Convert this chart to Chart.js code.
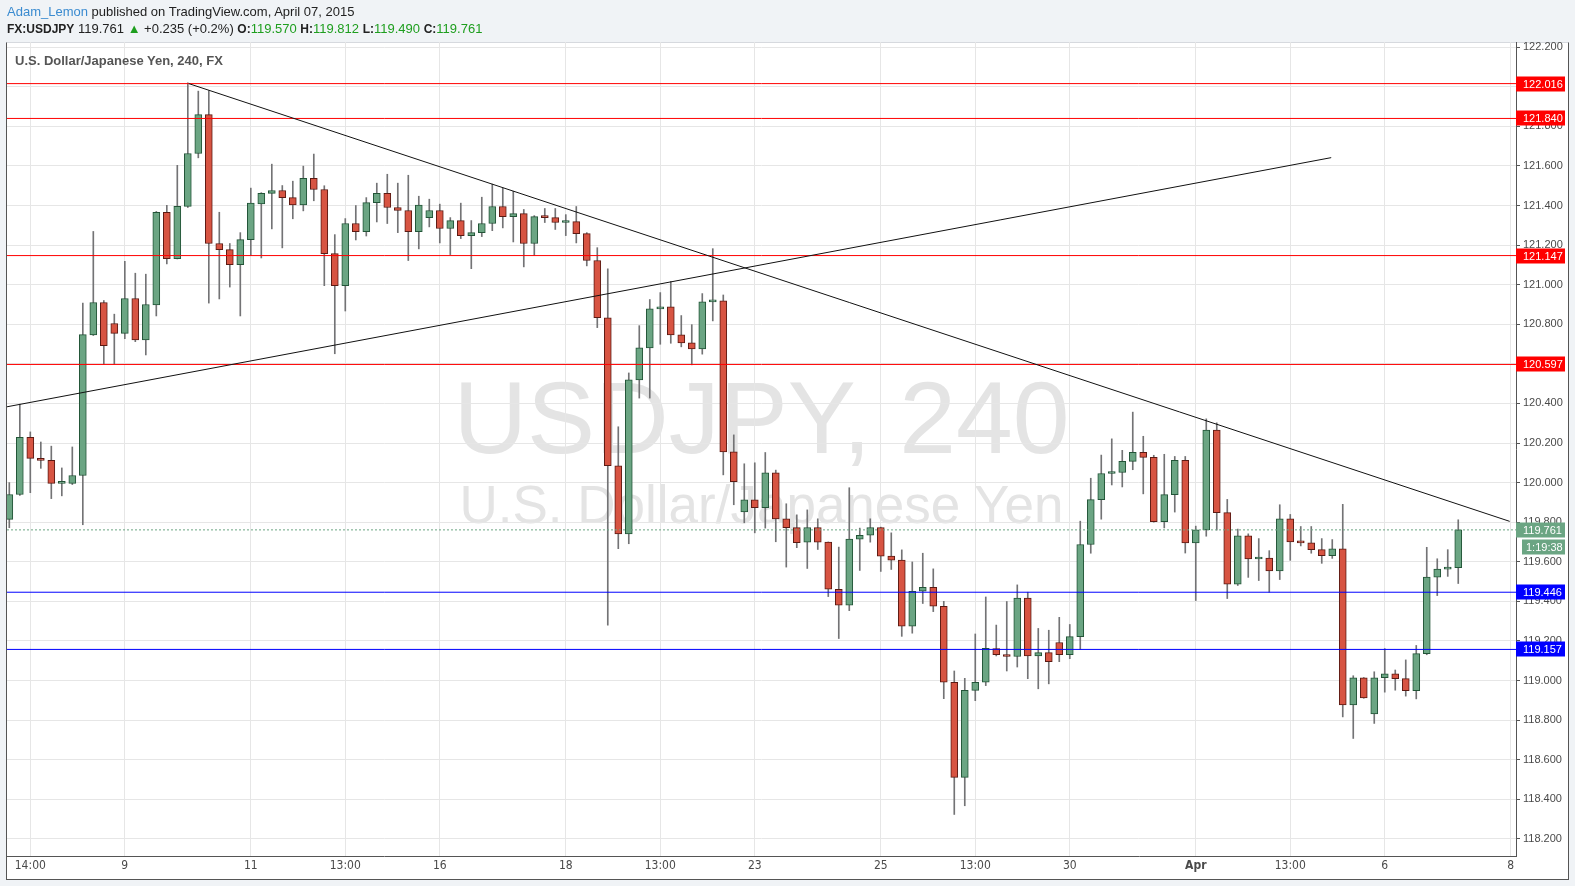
<!DOCTYPE html>
<html><head><meta charset="utf-8">
<script src="https://cdn.jsdelivr.net/npm/chart.js@4.4.0/dist/chart.umd.min.js"></script>
<style>
html,body{margin:0;padding:0;background:#f0f3f6;width:1575px;height:886px;overflow:hidden;font-family:"Liberation Sans",Arial,sans-serif;}
#panel{position:absolute;left:6px;top:42px;width:1561px;height:836px;background:#fff;border:1px solid #555;border-top-color:#d6d9de;z-index:1;}
.wm{position:absolute;left:7px;width:1509px;text-align:center;color:#e4e4e4;white-space:nowrap;line-height:1;z-index:2;}
#wm1{top:367px;font-size:102px;}
#wm2{top:478px;font-size:53px;}
#c{position:absolute;left:0;top:0;z-index:3;}
.hdr{position:absolute;left:7px;font-size:13px;line-height:13px;white-space:nowrap;color:#222;z-index:4;}
.hdr b{font-size:12px;}
.g{color:#1e9e1e;}
#title{position:absolute;left:15px;top:54px;font-size:13px;line-height:13px;font-weight:bold;color:#555;z-index:4;white-space:nowrap;}
</style></head>
<body>
<div id="panel"></div>
<div class="wm" id="wm1">USDJPY, 240</div>
<div class="wm" id="wm2">U.S. Dollar/Japanese Yen</div>
<canvas id="c" width="1575" height="886"></canvas>
<div class="hdr" style="top:5px"><span style="color:#3a8bd0">Adam_Lemon</span> published on TradingView.com, April 07, 2015</div>
<div class="hdr" style="top:22px"><b>FX:USDJPY</b> 119.761 <span class="g">&#9650;</span> +0.235 (+0.2%) <b>O:</b><span class="g">119.570</span> <b>H:</b><span class="g">119.812</span> <b>L:</b><span class="g">119.490</span> <b>C:</b><span class="g">119.761</span></div>
<div id="title">U.S. Dollar/Japanese Yen, 240, FX</div>
<script>
// ---- data (4H candles, USD/JPY) ----
const openP = [119.814,119.940,120.229,120.122,120.112,119.996,119.996,120.036,120.746,120.910,
120.804,120.754,120.930,120.721,120.898,121.365,121.132,121.396,121.663,121.859,
121.208,121.177,121.101,121.228,121.408,121.461,121.476,121.440,121.403,121.537,
121.481,121.157,120.995,121.309,121.268,121.415,121.461,121.390,121.375,121.268,
121.339,121.375,121.284,121.324,121.248,121.263,121.309,121.395,121.344,121.359,
121.208,121.344,121.339,121.314,121.319,121.258,121.122,120.832,120.085,119.741,
120.519,120.681,120.878,120.888,120.746,120.706,120.676,120.913,120.918,120.155,
119.852,119.913,119.873,120.049,119.817,119.772,119.699,119.773,119.699,119.461,
119.380,119.714,119.734,119.773,119.628,119.608,119.274,119.451,119.471,119.375,
118.991,118.510,118.950,118.991,119.161,119.131,119.121,119.416,119.124,119.141,
119.192,119.131,119.222,119.687,119.914,120.046,120.051,120.107,120.153,120.127,
119.802,119.939,120.112,119.695,119.761,120.265,119.848,119.487,119.731,119.614,
119.619,119.553,119.817,119.700,119.695,119.661,119.631,119.665,118.877,119.014,
118.831,119.014,119.034,119.009,118.948,119.136,119.522,119.563,119.570];
const highP = [120.000,120.396,120.256,120.205,120.184,120.074,120.180,120.907,121.269,120.920,
120.851,121.118,121.058,121.053,121.370,121.401,121.603,122.020,121.978,121.980,
121.366,121.208,121.263,121.488,121.465,121.609,121.501,121.523,121.599,121.660,
121.500,121.253,121.334,121.400,121.440,121.513,121.558,121.513,121.553,121.447,
121.432,121.407,121.339,121.412,121.324,121.442,121.508,121.488,121.472,121.380,
121.349,121.385,121.385,121.354,121.395,121.263,121.187,121.080,120.282,120.554,
120.793,120.925,120.960,121.016,120.844,120.798,120.955,121.182,120.948,120.241,
120.095,120.100,120.152,120.063,119.893,119.837,119.862,119.817,119.700,119.674,
119.974,119.770,119.817,119.775,119.746,119.660,119.599,119.643,119.564,119.400,
119.048,119.011,119.235,119.422,119.280,119.399,119.483,119.446,119.263,119.254,
119.319,119.283,119.805,120.022,120.139,120.221,120.163,120.356,120.234,120.138,
120.143,120.132,120.132,119.780,120.322,120.302,119.915,119.765,119.741,119.717,
119.656,119.888,119.839,119.778,119.778,119.717,119.712,119.890,119.024,119.015,
119.044,119.161,119.053,119.104,119.177,119.673,119.615,119.661,119.812];
const lowP = [119.772,119.935,119.949,120.072,119.919,119.933,119.990,119.787,120.743,120.598,
120.598,120.727,120.712,120.645,120.842,121.105,121.130,121.390,121.641,120.907,
120.928,120.988,120.842,121.147,121.135,121.282,121.186,121.333,121.373,121.424,
120.995,120.651,120.867,121.226,121.246,121.317,121.309,121.263,121.122,121.181,
121.292,121.211,121.152,121.233,121.081,121.243,121.273,121.287,121.216,121.090,
121.147,121.314,121.279,121.248,121.211,121.095,120.783,119.280,119.666,119.691,
120.427,120.427,120.699,120.704,120.686,120.595,120.649,120.817,120.039,119.888,
119.797,119.746,119.770,119.701,119.573,119.671,119.566,119.662,119.424,119.212,
119.353,119.556,119.699,119.551,119.561,119.223,119.239,119.389,119.348,118.908,
118.323,118.367,118.898,118.974,119.124,119.048,119.068,119.009,118.958,118.983,
119.095,119.110,119.158,119.643,119.815,119.988,119.978,120.065,119.943,119.800,
119.771,119.851,119.644,119.404,119.729,119.760,119.414,119.480,119.521,119.505,
119.446,119.510,119.607,119.680,119.643,119.592,119.617,118.816,118.707,118.910,
118.783,118.941,118.951,118.921,118.907,119.130,119.429,119.526,119.490];
const closeP = [119.940,120.229,120.122,120.112,119.996,119.998,120.036,120.748,120.910,120.692,
120.754,120.930,120.721,120.900,121.365,121.132,121.396,121.663,121.859,121.208,
121.177,121.101,121.228,121.412,121.461,121.476,121.440,121.403,121.537,121.481,
121.157,120.995,121.309,121.268,121.415,121.461,121.390,121.375,121.268,121.402,
121.375,121.284,121.324,121.248,121.263,121.309,121.395,121.344,121.359,121.208,
121.344,121.339,121.314,121.319,121.258,121.122,120.833,120.085,119.741,120.519,
120.681,120.878,120.888,120.746,120.706,120.676,120.913,120.918,120.155,120.004,
119.913,119.873,120.049,119.817,119.772,119.696,119.773,119.699,119.461,119.380,
119.714,119.734,119.773,119.628,119.608,119.274,119.451,119.471,119.375,118.991,
118.510,118.950,118.991,119.163,119.131,119.121,119.416,119.124,119.141,119.095,
119.131,119.222,119.687,119.914,120.046,120.051,120.107,120.153,120.127,119.802,
119.939,120.112,119.695,119.761,120.265,119.848,119.487,119.731,119.614,119.617,
119.553,119.817,119.700,119.695,119.661,119.631,119.665,118.877,119.014,118.912,
119.014,119.034,119.009,118.948,119.136,119.522,119.563,119.568,119.761];

// x-axis tick labels (candle index -> label)
const xTickIndex = [2,11,23,32,41,53,62,71,83,92,101,113,122,131,143];
const xTickLabels = ['14:00','9','11','13:00','16','18','13:00','23','25','13:00','30','Apr','13:00','6','8'];
// y-axis tick values
const yTicks = [118.2,118.4,118.6,118.8,119.0,119.2,119.4,119.6,119.8,120.0,120.2,120.4,120.6,120.8,121.0,121.2,121.4,121.6,121.8,122.0,122.2];
// horizontal levels
const resistLevels = [122.016,121.840,121.147,120.597];
const supportLevels = [119.446,119.157];
const lastPrice = 119.761;
const countdown = '1:19:38';
// trend lines: [candle index, price]
const trendDown = [[17.1,122.016],[142.9,119.804]];
const trendUp = [[-0.22,120.383],[125.9,121.642]];
// axis ranges
const xMin = -0.22, xMax = 143.5;
const yMin = 118.1131, yMax = 122.2263;

// ---- build ----
const idx = closeP.map((_, i) => i);
const isUp = idx.map(i => closeP[i] >= openP[i]);
const bodies = idx.map(i => ({x: i, y: [openP[i], closeP[i]]}));
const wicks = idx.map(i => ({x: i, y: [lowP[i], highP[i]]}));
const hLine = (v) => [{x: xMin, y: v}, {x: xMax, y: v}];
const pts = (arr) => arr.map(p => ({x: p[0], y: p[1]}));

const RED = '#ff0000', BLUE = '#0000ff', GREEN = '#6ba583';
const datasets = [
  {type: 'bar', data: wicks, backgroundColor: '#737375', borderWidth: 0, barThickness: 1, grouped: false, order: 3},
  {type: 'bar', data: bodies, backgroundColor: isUp.map(u => u ? '#6ba583' : '#d75442'),
   borderColor: isUp.map(u => u ? '#225437' : '#5b1a13'), borderWidth: 1, borderSkipped: false,
   barThickness: 7, minBarLength: 2, grouped: false, order: 2}
];
resistLevels.forEach(v => datasets.push({type: 'line', data: hLine(v), borderColor: RED, borderWidth: 1, pointRadius: 0, order: 1}));
supportLevels.forEach(v => datasets.push({type: 'line', data: hLine(v), borderColor: BLUE, borderWidth: 1, pointRadius: 0, order: 1}));
datasets.push({type: 'line', data: hLine(lastPrice), borderColor: GREEN, borderDash: [2, 2], borderWidth: 1, pointRadius: 0, order: 1});
datasets.push({type: 'line', data: pts(trendDown), borderColor: '#111111', borderWidth: 1, pointRadius: 0, order: 0});
datasets.push({type: 'line', data: pts(trendUp), borderColor: '#111111', borderWidth: 1, pointRadius: 0, order: 0});

const boxPlugin = {
  id: 'priceBoxes',
  afterDraw(chart) {
    const ctx = chart.ctx, y = chart.scales.y, left = chart.chartArea.right;
    ctx.save();
    ctx.font = '11px "Liberation Sans", Arial, sans-serif';
    ctx.textBaseline = 'middle';
    const box = (v, color, text, x0, x1, dy) => {
      const py = Math.round(y.getPixelForValue(v)) + dy;
      ctx.fillStyle = color;
      ctx.fillRect(x0, py - 7.5, x1 - x0, 15);
      ctx.fillStyle = '#ffffff';
      ctx.fillText(text, x0 + (x0 === left ? 7 : 4), py + 0.5);
    };
    resistLevels.forEach(v => box(v, RED, v.toFixed(3), left, left + 49, 0));
    supportLevels.forEach(v => box(v, BLUE, v.toFixed(3), left, left + 49, 0));
    box(lastPrice, GREEN, lastPrice.toFixed(3), left, left + 49, 0);
    box(lastPrice, GREEN, countdown, left + 6, left + 49, 17);
    ctx.restore();
  }
};

const labelFor = (v) => { const k = xTickIndex.indexOf(v); return k >= 0 ? xTickLabels[k] : ''; };

new Chart(document.getElementById('c'), {
  type: 'bar',
  data: {datasets},
  plugins: [boxPlugin],
  options: {
    responsive: false, animation: false, events: [],
    layout: {padding: {left: 7, top: 42, right: 7, bottom: 7}},
    plugins: {legend: {display: false}, tooltip: {enabled: false}},
    scales: {
      x: {
        type: 'linear', min: xMin, max: xMax, offset: false,
        afterBuildTicks: (s) => { s.ticks = xTickIndex.map(v => ({value: v})); },
        afterFit: (s) => { s.height = 23; },
        grid: {color: '#e6e6e6', drawTicks: false, offset: false},
        border: {color: '#555555'},
        ticks: {
          autoSkip: false, maxRotation: 0, padding: 3, color: '#4a4a4a',
          callback: (v) => labelFor(v),
          font: (c) => ({family: '"Liberation Sans Narrow", "DejaVu Sans Condensed", "Liberation Sans", sans-serif', size: 12,
                         weight: (c.tick && c.tick.value === 113) ? 'bold' : 'normal'})
        }
      },
      y: {
        type: 'linear', position: 'right', min: yMin, max: yMax,
        afterBuildTicks: (s) => { s.ticks = yTicks.map(v => ({value: v})); },
        afterFit: (s) => { s.width = 52; },
        grid: {color: '#e6e6e6', tickColor: '#555555', tickLength: 4},
        border: {color: '#555555'},
        ticks: {padding: 3, color: '#4a4a4a', font: {family: '"Liberation Sans", Arial, sans-serif', size: 11},
                callback: (v) => Number(v).toFixed(3)}
      }
    }
  }
});
</script>
</body></html>
